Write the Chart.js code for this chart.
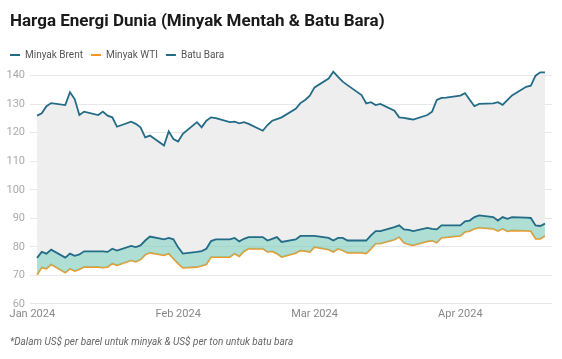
<!DOCTYPE html>
<html>
<head>
<meta charset="utf-8">
<script src="https://cdn.jsdelivr.net/npm/chart.js@4.4.1/dist/chart.umd.min.js"></script>
<style>
  html, body { margin: 0; padding: 0; background: #fff; }
  #wrap { position: relative; width: 562px; height: 359px; overflow: hidden; font-family: Roboto, sans-serif; }
  #title { position: absolute; left: 10px; top: 10px; margin: 0; font: 700 17px Roboto, sans-serif; color: #1a1a1a; white-space: nowrap; }
  #note { position: absolute; left: 10px; top: 336px; margin: 0; font: italic 10px Roboto, sans-serif; color: #666; white-space: nowrap; }
  #box { position: absolute; left: 0; top: 0; width: 562px; height: 359px; }
</style>
</head>
<body>
<div id="wrap">
  <div id="box"><canvas id="c"></canvas></div>
  <h1 id="title">Harga Energi Dunia (Minyak Mentah &amp; Batu Bara)</h1>
  <p id="note">*Dalam US$ per barel untuk minyak &amp; US$ per ton untuk batu bara</p>
</div>
<script>
const dates = ['2024-01-02','2024-01-03','2024-01-04','2024-01-05','2024-01-08','2024-01-09','2024-01-10','2024-01-11','2024-01-12',
'2024-01-15','2024-01-16','2024-01-17','2024-01-18','2024-01-19','2024-01-22','2024-01-23','2024-01-24','2024-01-25','2024-01-26',
'2024-01-29','2024-01-30','2024-01-31','2024-02-01','2024-02-02','2024-02-05','2024-02-06','2024-02-07','2024-02-08','2024-02-09',
'2024-02-12','2024-02-13','2024-02-14','2024-02-15','2024-02-16','2024-02-19','2024-02-20','2024-02-21','2024-02-22','2024-02-23',
'2024-02-26','2024-02-27','2024-02-28','2024-02-29','2024-03-01','2024-03-04','2024-03-05','2024-03-06','2024-03-07','2024-03-08',
'2024-03-11','2024-03-12','2024-03-13','2024-03-14','2024-03-15','2024-03-18','2024-03-19','2024-03-20','2024-03-21','2024-03-22',
'2024-03-25','2024-03-26','2024-03-27','2024-03-28','2024-03-29','2024-04-01','2024-04-02','2024-04-03','2024-04-04','2024-04-05',
'2024-04-08','2024-04-09','2024-04-10','2024-04-11','2024-04-12','2024-04-15','2024-04-16','2024-04-17','2024-04-18','2024-04-19'];

const brent = [76.1,78.2,77.6,79.0,76.2,77.6,76.8,77.3,78.4,
78.4,78.4,78.2,79.3,78.7,80.3,79.9,80.5,82.2,83.6,
82.6,83.1,82.6,79.8,77.6,78.2,78.5,79.3,82.0,82.6,
82.6,83.1,81.9,82.8,83.4,83.4,82.2,82.8,83.4,81.7,
82.6,83.8,83.8,83.8,83.8,83.1,82.2,83.1,83.1,82.2,
82.2,82.2,84.0,85.5,85.5,86.9,87.5,86.1,85.9,85.5,
86.6,86.3,86.1,87.5,87.5,87.5,88.9,89.2,90.4,91.0,
90.4,89.2,90.4,89.8,90.4,90.2,90.1,87.5,87.3,88.1];

const wti = [70.2,72.7,72.3,73.8,70.9,72.3,71.5,72.1,72.9,
72.9,72.7,72.9,74.1,73.5,75.2,74.7,75.5,77.2,77.9,
77.0,77.6,75.8,74.1,72.6,72.9,73.3,73.8,76.4,76.4,
76.4,77.6,76.6,78.4,79.3,79.3,78.2,78.4,77.6,76.4,
77.8,78.7,78.5,78.2,79.9,79.0,78.2,79.3,78.7,77.9,
77.9,77.6,79.3,81.1,81.1,82.5,83.4,81.4,80.8,80.5,
81.9,82.1,81.4,83.1,83.3,83.8,85.2,85.5,86.3,86.7,
86.3,85.5,86.3,85.4,85.7,85.6,85.5,82.8,82.8,83.8];

const coal = [126.0,126.8,129.3,130.4,129.7,134.2,131.8,126.2,127.4,
126.2,127.4,126.0,125.4,122.1,123.9,123.1,121.9,118.4,119.0,
115.5,120.5,117.8,116.9,119.6,123.7,121.9,124.2,125.4,125.1,
123.7,123.9,123.3,123.7,123.1,120.7,122.7,124.2,124.8,125.4,
128.4,130.4,131.5,133.0,135.9,139.0,141.4,139.6,137.9,136.7,
133.2,130.3,130.7,129.7,130.1,127.7,125.4,125.2,124.9,124.6,
126.2,127.4,131.5,132.2,132.3,133.0,133.9,131.6,129.3,130.1,
130.3,130.7,129.8,131.4,133.1,136.1,136.5,140.0,141.2,141.2];

const seriesNames = ['Minyak Brent', 'Minyak WTI', 'Batu Bara'];
const tickDates = ['2024-01-01','2024-02-01','2024-03-01','2024-04-01'];
const tickLabels = ['Jan 2024','Feb 2024','Mar 2024','Apr 2024'];
const yTicks = [60,70,80,90,100,110,120,130,140];

const DAY = 86400000;
const base = Date.UTC(2024,0,1);
function dayOf(s){ const p = s.split('-').map(Number); return (Date.UTC(p[0],p[1]-1,p[2]) - base)/DAY; }
const xs = dates.map(dayOf);
const pts = arr => arr.map((v,i) => ({x: xs[i], y: v}));
const tickDays = tickDates.map(dayOf);

const BLUE = '#236b86', ORANGE = '#f7971f';

new Chart(document.getElementById('c'), {
  type: 'line',
  data: {
    datasets: [
      { label: seriesNames[0], data: pts(brent), borderColor: BLUE, backgroundColor: 'rgba(120,200,184,0.6)', fill: {target: 1}, borderWidth: 1.8, pointRadius: 0, tension: 0 },
      { label: seriesNames[1], data: pts(wti), borderColor: ORANGE, backgroundColor: ORANGE, fill: false, borderWidth: 1.8, pointRadius: 0, tension: 0 },
      { label: seriesNames[2], data: pts(coal), borderColor: BLUE, backgroundColor: '#eeeeee', fill: {target: 0}, borderWidth: 1.8, pointRadius: 0, tension: 0 }
    ]
  },
  options: {
    responsive: true,
    maintainAspectRatio: false,
    animation: false,
    layout: { padding: { left: 2, right: 10, top: 42, bottom: 34 } },
    plugins: {
      title: { display: false },
      tooltip: { enabled: false },
      legend: {
        display: true,
        align: 'start',
        labels: {
          boxWidth: 10, boxHeight: 2, padding: 8,
          color: '#555', font: { family: 'Roboto', size: 10 },
          generateLabels(chart) {
            const items = Chart.defaults.plugins.legend.labels.generateLabels(chart);
            return items.map(it => Object.assign(it, { fillStyle: it.strokeStyle, lineWidth: 0 }));
          }
        }
      }
    },
    scales: {
      x: {
        type: 'linear', min: -0.5, max: 110.5,
        afterBuildTicks(scale) { scale.ticks = tickDays.map(v => ({value: v})); },
        ticks: { callback(v) { const i = tickDays.indexOf(v); return i >= 0 ? tickLabels[i] : ''; }, color: '#888', font: { family: 'Roboto', size: 11 }, padding: 4, maxRotation: 0, autoSkip: false },
        grid: { display: false, drawTicks: false },
        border: { display: false }
      },
      y: {
        type: 'linear', min: 60, max: 142,
        afterBuildTicks(scale) { scale.ticks = yTicks.map(v => ({value: v})); },
        afterFit(scale) { scale.width = 28; },
        ticks: { color: '#aaa', font: { family: 'Roboto', size: 11 }, padding: 5 },
        grid: { color: '#e8e8e8', drawTicks: false, lineWidth: 1 },
        border: { display: false }
      }
    }
  }
});
</script>
</body>
</html>
